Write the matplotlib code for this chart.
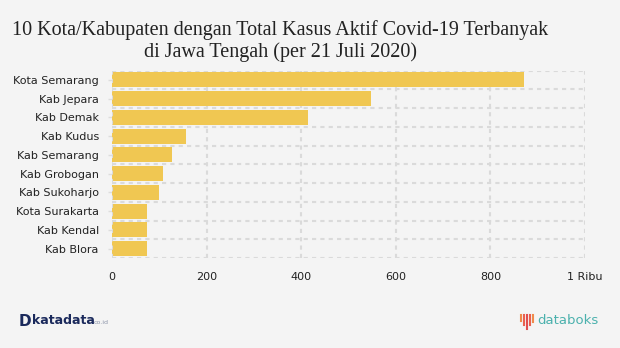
import matplotlib.pyplot as plt
from matplotlib.ticker import FuncFormatter

# Kasus aktif per daerah, 21 Juli 2020
regions = ["Kota Semarang", "Kab Jepara", "Kab Demak", "Kab Kudus", "Kab Semarang",
           "Kab Grobogan", "Kab Sukoharjo", "Kota Surakarta", "Kab Kendal", "Kab Blora"]
active_cases = [871, 548, 414, 156, 126, 108, 99, 75, 75, 74]
x_ticks = [0, 200, 400, 600, 800, 1000]

bg = "#f4f4f4"
bar_color = "#f0c752"
grid_color = "#dadada"

fig = plt.figure(figsize=(6.2, 3.48), dpi=100, facecolor=bg)
ax = fig.add_axes([112 / 620, 1 - 258 / 348, (585 - 112) / 620, (258 - 70.5) / 348])
ax.set_facecolor(bg)

pos = list(range(len(regions)))
ax.barh(pos, active_cases, height=0.8, color=bar_color, zorder=2)
ax.set_ylim(len(regions) - 0.5, -0.5)
ax.set_xlim(0, 1000)

ax.set_yticks(pos)
ax.set_yticklabels(regions, fontsize=8, color="#222222")
ax.set_xticks(x_ticks)
ax.xaxis.set_major_formatter(FuncFormatter(lambda v, p: "1 Ribu" if v >= 1000 else f"{int(v)}"))
ax.tick_params(axis="x", length=0, pad=10, labelsize=8, labelcolor="#222222")
ax.tick_params(axis="y", length=3, width=1, color="#dddddd", pad=6.5)

# dotted grid on the bar boundaries and every 200 cases
for b in [i - 0.5 for i in range(len(regions) + 1)]:
    ax.axhline(b, color=grid_color, lw=1.5, ls=(0, (2, 2)), zorder=1)
for v in x_ticks:
    ax.axvline(v, color=grid_color, lw=1.5, ls=(0, (2, 2)), zorder=3 if v == 0 else 1)
for s in ax.spines.values():
    s.set_visible(False)

fig.text(280 / 620, 1 - 41 / 348,
         "10 Kota/Kabupaten dengan Total Kasus Aktif Covid-19 Terbanyak\ndi Jawa Tengah (per 21 Juli 2020)",
         ha="center", va="center", fontsize=14.5, family="Liberation Serif",
         color="#222222", linespacing=1.1)

# footer marks
fig.text(19 / 620, 1 - 321 / 348, "D", fontsize=11, fontweight="bold", color="#1b2a5c",
         va="center", ha="left")
fig.text(32 / 620, 1 - 321 / 348, "katadata", fontsize=9, fontweight="bold", color="#1b2a5c",
         va="center", ha="left")
fig.text(94 / 620, 1 - 323 / 348, "co.id", fontsize=4.5, color="#8a93a8", va="center", ha="left")

icon_x = [521, 524, 527, 530, 533]
icon_h = [5, 9, 13, 9, 6]
icon_c = ["#f08a4b", "#e9604f", "#e24e4e", "#e9604f", "#f08a4b"]
for xi, hi, ci in zip(icon_x, icon_h, icon_c):
    fig.add_artist(plt.Line2D([xi / 620, xi / 620],
                              [1 - (316 + hi) / 348, 1 - 315 / 348],
                              color=ci, lw=1.5))
fig.text(537 / 620, 1 - 321 / 348, "databoks", fontsize=9.5, color="#4bb1ad",
         va="center", ha="left")

fig.savefig("out.png", dpi=100, facecolor=bg)
